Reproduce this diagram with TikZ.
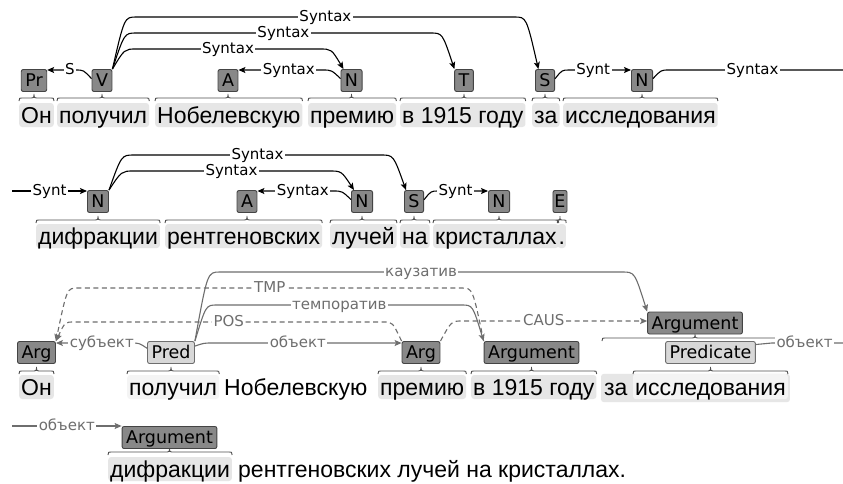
\documentclass[tikz,border=0pt]{standalone}
\usepackage{fontspec}
\setmainfont{Liberation Sans}
\newfontfamily\dv{DejaVu Sans}
\usetikzlibrary{calc,arrows.meta,backgrounds}
\definecolor{hl}{HTML}{E6E6E6}
\definecolor{hll}{HTML}{F4F4F4}
\definecolor{bxf}{HTML}{888888}
\definecolor{bxd}{HTML}{444444}
\definecolor{bxl}{HTML}{D8D8D8}
\definecolor{gr}{HTML}{6E6E6E}
\definecolor{brcol}{HTML}{505050}
\tikzset{
 word/.style={anchor=base west, inner xsep=2pt, inner ysep=0pt, text height=20pt, text depth=4pt, rounded corners=3pt, font=\fontsize{23}{23}\selectfont},
 hlw/.style={word, fill=hl},
 tbox/.style={draw=bxd, fill=bxf, rounded corners=2pt, line width=0.9pt, inner xsep=4pt, inner ysep=0pt, text height=12.6pt, text depth=0pt, minimum height=22pt, font=\dv\fontsize{17.5}{17.5}\selectfont},
 lbox/.style={tbox, fill=bxl, draw=gr},
 lbl/.style={fill=white, inner xsep=1.5pt, inner ysep=0pt, text height=11pt, text depth=3pt, font=\dv\fontsize{15}{15}\selectfont},
 arcb/.style={line width=1.1pt, black, -{Stealth[length=7pt,width=6pt,inset=1.5pt]}},
 arcg/.style={arcb, gr},
 dsh/.style={dash pattern=on 5pt off 3.5pt},
 brc/.style={draw=brcol, line width=0.9pt},
}
\newcommand\myarc[7][]{%
 \draw[#1] (#2) .. controls ($(#2 |- 0,#4)+0.5*(#6,0)$) .. ($(#2 |- 0,#4)+(#6,0)$) -- node[pos=#7,lbl]{#5} ($(#3 |- 0,#4)-(#6,0)$) .. controls ($(#3 |- 0,#4)-0.5*(#6,0)$) .. (#3);}
\newcommand\myarcf[7][]{%
 \draw[#1] (#2) .. controls ($(#2 |- 0,#4)+0.5*(#6,0)$) .. ($(#2 |- 0,#4)+(#6,0)$) -- node[pos=#7,lbl]{#5} (#3 |- 0,#4);}
\newcommand\mybrace[5][5]{%
 \draw[brc] ($(#2.west |- 0,#5)+(0,3)$) .. controls (#2.west |- 0,#5) .. ($(#2.west |- 0,#5)+(#1,0)$) -- ($(#4.south |- 0,#5)+(-#1,0)$) .. controls (#4.south |- 0,#5) .. ($(#4.south |- 0,#5)+(0,-4)$) .. controls (#4.south |- 0,#5) .. ($(#4.south |- 0,#5)+(#1,0)$) -- ($(#3.east |- 0,#5)+(-#1,0)$) .. controls (#3.east |- 0,#5) .. ($(#3.east |- 0,#5)+(0,3)$);}
\begin{document}
\begin{tikzpicture}[x=1pt,y=-1pt]
\useasboundingbox (0,0) rectangle (843,483);
% row 1 words
\node[hlw] (w11) at (19,123) {Он};
\node[hlw] (w12) at (57,123) {получил};
\node[hlw] (w13) at (155,123) {Нобелевскую};
\node[hlw] (w14) at (308,123) {премию};
\node[hlw] (w15) at (400,123) {в 1915 году};
\node[hlw] (w16) at (532,123) {за};
\node[hlw] (w17) at (563,123) {исследования};
% row 2 words
\node[hlw] (w21) at (36,244) {дифракции};
\node[hlw] (w22) at (165,244) {рентгеновских};
\node[hlw] (w23) at (330,244) {лучей};
\node[hlw] (w24) at (400,244) {на};
\node[hlw] (w25) at (433,244) {кристаллах};
\node[hlw, inner xsep=1pt] (w26) at ($(w25.base east)+(-1.5,0)$) {.};
% row 3 words
\node[hlw] (w31) at (19,395) {Он};
\node[word, fill=hll] (w32) at (127,395) {получил};
\node[word] (w33) at (222,395) {Нобелевскую};
\node[hlw] (w34) at (378,395) {премию};
\node[hlw] (w35) at (471,395) {в 1915 году};
\node[word] (w36) at (602,395) {за};
\node[word] (w37) at (633,395) {исследования};
% row 4 words
\node[hlw] (w41) at (108,477) {дифракции};
\node[word] (w42) at (236,477) {рентгеновских лучей на кристаллах.};
% boxes
\node[tbox] (Pr) at (34,80.5) {Pr};
\node[tbox] (V) at (102,80.5) {V};
\node[tbox] (A) at (228,80.5) {A};
\node[tbox] (N1) at (351.5,80.5) {N};
\node[tbox] (T) at (464,80.5) {T};
\node[tbox] (S) at (545,80.5) {S};
\node[tbox] (N2) at (642,80.5) {N};
\node[tbox] (N3) at (98,201.5) {N};
\node[tbox] (A2) at (247,201.5) {A};
\node[tbox] (N4) at (362,201.5) {N};
\node[tbox] (S2) at (414,201.5) {S};
\node[tbox] (N5) at (499,201.5) {N};
\node[tbox, inner xsep=1.5pt] (E) at (560,201.5) {E};
\node[tbox] (Arg1) at (36.5,352.5) {Arg};
\node[lbox] (Pred) at (171,352.5) {Pred};
\node[tbox] (Arg2) at (421,352.5) {Arg};
\node[tbox] (Arg3) at (531.5,352.5) {Argument};
\node[tbox] (Arg4) at (695,323) {Argument};
\node[lbox] (Pdc) at (710.5,352.5) {Predicate};
\node[tbox] (Arg5) at (169.5,437.5) {Argument};
% free ends
\coordinate (r1) at (843,70);
\coordinate (l2) at (12,191);
\coordinate (r3) at (843,343);
\coordinate (l4) at (12,426);
% row 1 arcs
\myarc[arcb]{V.north east}{S.120}{17}{Syntax}{24}{0.5}
\myarc[arcb]{V.north east}{T.130}{33}{Syntax}{24}{0.5}
\myarc[arcb]{V.north east}{N1.125}{49}{Syntax}{24}{0.5}
\myarcf[arcb]{V.170}{Pr.east}{70}{S}{-16}{0.2}
\myarcf[arcb]{N1.170}{A.east}{70}{Syntax}{-18}{0.4}
\myarcf[arcb]{S.10}{N2.west}{70}{Synt}{14}{0.39}
\myarcf[arcb,-]{N2.10}{r1}{70}{Syntax}{16}{0.48}
% row 2 arcs
\myarcf[arcb]{l2}{N3.west}{191}{Synt}{0}{0.5}
\myarc[arcb]{N3.north east}{S2.125}{155}{Syntax}{25}{0.5}
\myarc[arcb]{N3.north east}{N4.125}{171}{Syntax}{25}{0.5}
\myarcf[arcb]{N4.170}{A2.east}{191}{Syntax}{-18}{0.4}
\myarcf[arcb]{S2.10}{N5.west}{191}{Synt}{14}{0.35}
% row 3 arcs
\myarcf[arcg]{Pred.170}{Arg1.east}{343}{субъект}{-16}{0.39}
\myarcf[arcg]{Pred.15}{Arg2.west}{343}{объект}{18}{0.45}
\myarc[arcg]{Pred.north east}{Arg3.north west}{305}{темпоратив}{22}{0.5}
\myarc[arcg]{Pred.north east}{Arg4.north west}{272}{каузатив}{25}{0.5}
\myarc[arcg,dsh]{Arg3.north west}{Arg1.north east}{288}{TMP}{-22}{0.5}
\myarc[arcg,dsh]{Arg2.north west}{Arg1.north east}{322}{POS}{-18}{0.5}
\myarcf[arcg,dsh]{Arg2.north east}{Arg4.west}{321}{CAUS}{22}{0.44}
\myarcf[arcg,-]{Pdc.10}{r3}{343}{объект}{16}{0.46}
% row 4 arc
\myarcf[arcg]{l4}{Arg5.west}{426}{объект}{0}{0.5}
\begin{pgfonlayer}{background}
\fill[white] (0,0) rectangle (843,483);
\fill[hl, rounded corners=3pt] ($(w36.north west)+(-1,-1)$) rectangle ($(w37.south east)+(2,3)$);
\fill[hll, rounded corners=3pt] ($(w37.north west)+(0,-1)$) rectangle (w37.south east);
\mybrace{w11}{w11}{Pr}{98}
\mybrace{w12}{w12}{V}{98}
\mybrace{w13}{w13}{A}{98}
\mybrace{w14}{w14}{N1}{98}
\mybrace{w15}{w15}{T}{98}
\mybrace{w16}{w16}{S}{98}
\mybrace{w17}{w17}{N2}{98}
\mybrace{w21}{w21}{N3}{220}
\mybrace{w22}{w22}{A2}{220}
\mybrace{w23}{w23}{N4}{220}
\mybrace{w24}{w24}{S2}{220}
\mybrace{w25}{w25}{N5}{220}
\mybrace[2]{w26}{w26}{E}{220}
\mybrace{w31}{w31}{Arg1}{371}
\mybrace{w32}{w32}{Pred}{371}
\mybrace{w34}{w34}{Arg2}{371}
\mybrace{w35}{w35}{Arg3}{371}
\mybrace{w37}{w37}{Pdc}{371}
\mybrace{w36}{w37}{Arg4}{338}
\mybrace{w41}{w41}{Arg5}{452}
\end{pgfonlayer}
\end{tikzpicture}
\end{document}
